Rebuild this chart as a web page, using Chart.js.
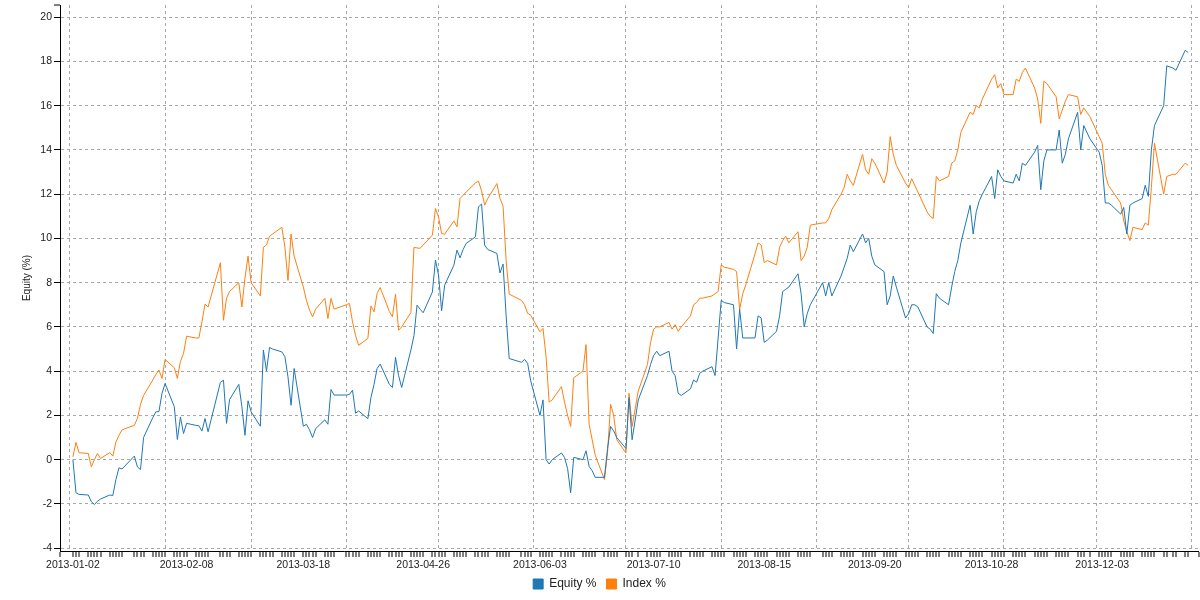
<!DOCTYPE html>
<html>
<head>
<meta charset="utf-8">
<script src="https://cdn.jsdelivr.net/npm/chart.js@4.4.0/dist/chart.umd.min.js"></script>
<style>
  html, body { margin: 0; padding: 0; background: #fff; }
</style>
</head>
<body>
<canvas id="equity-chart" width="1200" height="600"></canvas>
<script>
// trading days of 2013
const dates = [
  '2013-01-02','2013-01-03','2013-01-04','2013-01-07','2013-01-08','2013-01-09','2013-01-10','2013-01-11','2013-01-14','2013-01-15','2013-01-16','2013-01-17','2013-01-18','2013-01-22','2013-01-23','2013-01-24','2013-01-25','2013-01-28','2013-01-29','2013-01-30','2013-01-31',
  '2013-02-01','2013-02-04','2013-02-05','2013-02-06','2013-02-07','2013-02-08','2013-02-11','2013-02-12','2013-02-13','2013-02-14','2013-02-15','2013-02-19','2013-02-20','2013-02-21','2013-02-22','2013-02-25','2013-02-26','2013-02-27','2013-02-28',
  '2013-03-01','2013-03-04','2013-03-05','2013-03-06','2013-03-07','2013-03-08','2013-03-11','2013-03-12','2013-03-13','2013-03-14','2013-03-15','2013-03-18','2013-03-19','2013-03-20','2013-03-21','2013-03-22','2013-03-25','2013-03-26','2013-03-27','2013-03-28',
  '2013-04-01','2013-04-02','2013-04-03','2013-04-04','2013-04-05','2013-04-08','2013-04-09','2013-04-10','2013-04-11','2013-04-12','2013-04-15','2013-04-16','2013-04-17','2013-04-18','2013-04-19','2013-04-22','2013-04-23','2013-04-24','2013-04-25','2013-04-26','2013-04-29','2013-04-30',
  '2013-05-01','2013-05-02','2013-05-03','2013-05-06','2013-05-07','2013-05-08','2013-05-09','2013-05-10','2013-05-13','2013-05-14','2013-05-15','2013-05-16','2013-05-17','2013-05-20','2013-05-21','2013-05-22','2013-05-23','2013-05-24','2013-05-28','2013-05-29','2013-05-30','2013-05-31',
  '2013-06-03','2013-06-04','2013-06-05','2013-06-06','2013-06-07','2013-06-10','2013-06-11','2013-06-12','2013-06-13','2013-06-14','2013-06-17','2013-06-18','2013-06-19','2013-06-20','2013-06-21','2013-06-24','2013-06-25','2013-06-26','2013-06-27','2013-06-28',
  '2013-07-01','2013-07-02','2013-07-03','2013-07-05','2013-07-08','2013-07-09','2013-07-10','2013-07-11','2013-07-12','2013-07-15','2013-07-16','2013-07-17','2013-07-18','2013-07-19','2013-07-22','2013-07-23','2013-07-24','2013-07-25','2013-07-26','2013-07-29','2013-07-30','2013-07-31',
  '2013-08-01','2013-08-02','2013-08-05','2013-08-06','2013-08-07','2013-08-08','2013-08-09','2013-08-12','2013-08-13','2013-08-14','2013-08-15','2013-08-16','2013-08-19','2013-08-20','2013-08-21','2013-08-22','2013-08-23','2013-08-26','2013-08-27','2013-08-28','2013-08-29','2013-08-30',
  '2013-09-03','2013-09-04','2013-09-05','2013-09-06','2013-09-09','2013-09-10','2013-09-11','2013-09-12','2013-09-13','2013-09-16','2013-09-17','2013-09-18','2013-09-19','2013-09-20','2013-09-23','2013-09-24','2013-09-25','2013-09-26','2013-09-27','2013-09-30',
  '2013-10-01','2013-10-02','2013-10-03','2013-10-04','2013-10-07','2013-10-08','2013-10-09','2013-10-10','2013-10-11','2013-10-14','2013-10-15','2013-10-16','2013-10-17','2013-10-18','2013-10-21','2013-10-22','2013-10-23','2013-10-24','2013-10-25','2013-10-28','2013-10-29','2013-10-30','2013-10-31',
  '2013-11-01','2013-11-04','2013-11-05','2013-11-06','2013-11-07','2013-11-08','2013-11-11','2013-11-12','2013-11-13','2013-11-14','2013-11-15','2013-11-18','2013-11-19','2013-11-20','2013-11-21','2013-11-22','2013-11-25','2013-11-26','2013-11-27','2013-11-29',
  '2013-12-02','2013-12-03','2013-12-04','2013-12-05','2013-12-06','2013-12-09','2013-12-10','2013-12-11','2013-12-12','2013-12-13','2013-12-16','2013-12-17','2013-12-18','2013-12-19','2013-12-20','2013-12-23','2013-12-24','2013-12-26','2013-12-27','2013-12-30','2013-12-31'
];

const equity = [
  0.0,-1.5,-1.57,-1.6,-1.9,-2.03,-1.88,-1.78,-1.6,-1.62,-0.9,-0.37,-0.42,0.16,-0.33,-0.45,1.0,1.9,2.16,2.17,3.0,
  3.44,2.39,0.91,1.93,1.18,1.64,1.55,1.53,1.29,1.86,1.26,3.49,3.59,1.64,2.72,3.4,2.39,1.1,2.66,
  2.16,1.51,4.95,4.01,5.07,5.0,4.87,4.65,3.74,2.46,4.12,1.51,1.6,1.35,1.0,1.4,1.8,1.6,3.17,2.92,
  2.92,2.95,3.14,2.1,2.2,1.85,2.81,3.4,4.12,4.32,3.4,3.26,4.62,3.8,3.26,4.95,5.6,6.98,6.8,6.64,7.58,9.02,
  8.34,6.73,7.89,8.79,9.47,9.12,9.5,9.77,10.07,11.43,11.55,9.7,9.5,9.32,8.44,8.84,6.5,4.57,4.4,4.53,4.35,3.56,
  2.0,2.7,0.0,-0.2,0.0,0.3,0.1,-0.4,-1.5,0.1,0.0,0.4,-0.3,-0.5,-0.8,-0.8,0.5,1.5,1.3,1.0,
  0.5,2.8,0.9,2.7,3.8,4.3,4.7,4.9,4.7,4.9,4.0,3.8,3.0,2.9,3.2,3.6,3.5,3.9,4.0,4.2,3.8,5.5,
  7.2,7.1,7.0,5.0,6.8,5.5,5.5,5.5,6.5,6.4,5.3,5.4,5.8,6.5,7.6,7.7,7.8,8.4,7.5,6.0,6.6,7.0,
  8.0,7.4,8.0,7.4,8.3,8.7,9.1,9.7,9.4,10.2,9.8,10.0,9.2,8.8,8.5,7.0,7.4,8.3,7.8,6.4,
  6.6,7.0,7.0,6.9,6.0,5.9,5.7,7.5,7.3,7.0,7.8,8.5,9.0,9.8,11.5,10.2,11.2,11.7,12.0,12.8,11.8,13.1,12.8,
  12.6,12.5,12.9,12.6,13.4,13.3,13.9,14.2,12.2,13.5,14.0,14.0,14.9,13.4,13.8,14.5,15.7,14.0,15.1,14.5,
  13.9,13.3,11.6,11.6,11.5,11.1,11.4,10.2,11.5,11.6,11.8,12.4,11.9,14.0,15.1,16.0,17.8,17.7,17.6,18.5,18.4
];

const indexPct = [
  0.13,0.78,0.31,0.28,-0.33,0.0,0.28,0.05,0.32,0.16,0.8,1.1,1.35,1.55,1.86,2.5,2.9,3.6,3.85,4.05,3.67,
  4.53,4.15,3.67,4.44,4.8,5.58,5.5,5.5,6.23,7.03,6.9,8.9,6.3,7.3,7.6,8.0,6.9,8.2,9.2,
  8.0,7.4,9.6,9.7,10.1,10.2,10.5,9.6,8.1,10.2,9.2,7.8,7.2,6.76,6.45,6.8,7.29,6.38,7.29,6.8,
  7.0,7.06,6.23,5.6,5.17,5.48,6.95,6.68,7.51,7.78,6.7,6.45,7.48,5.85,6.0,6.65,9.59,9.57,9.55,9.7,10.15,11.35,
  10.97,10.22,10.19,10.79,10.52,11.8,11.95,12.1,12.5,12.59,12.15,11.5,11.8,12.48,11.8,11.46,9.0,7.48,7.2,7.0,6.61,6.53,
  5.78,5.93,4.65,2.6,2.7,3.3,2.6,2.0,1.5,3.7,4.0,5.2,1.6,0.9,0.2,-0.9,0.3,2.5,2.0,0.9,
  0.3,3.0,1.5,3.1,4.3,5.3,5.9,6.0,6.0,6.2,5.9,6.1,5.8,6.0,6.5,7.0,7.1,7.3,7.3,7.4,7.5,7.6,
  8.8,8.7,8.6,8.5,6.8,7.5,7.9,9.3,9.8,9.7,8.9,9.0,8.8,9.6,9.9,10.1,9.8,10.3,9.0,9.2,9.6,10.6,
  10.7,10.7,10.9,11.3,12.0,12.3,12.9,12.6,12.4,13.8,13.1,12.9,13.6,13.4,12.5,13.0,14.6,13.8,13.3,12.5,
  12.3,12.7,12.4,12.1,11.2,11.0,10.9,12.8,12.6,12.8,13.4,13.5,14.0,14.8,15.7,15.6,16.0,15.9,16.3,17.2,17.4,16.8,17.0,
  16.5,16.5,17.2,17.1,17.5,17.7,16.8,16.3,15.2,17.1,17.0,16.4,15.4,15.8,16.2,16.5,16.4,15.6,15.9,15.5,
  14.6,14.3,12.9,12.4,12.2,11.6,10.8,10.3,9.9,10.5,10.4,10.7,10.6,12.3,14.3,12.0,12.8,12.9,12.9,13.4,13.3
];

const tickLabels = ['2013-01-02','2013-02-08','2013-03-18','2013-04-26','2013-06-03','2013-07-10','2013-08-15','2013-09-20','2013-10-28','2013-12-03'];
const monthStarts = ['2013-01-01','2013-02-01','2013-03-01','2013-04-01','2013-05-01','2013-06-01','2013-07-01','2013-08-01','2013-09-01','2013-10-01','2013-11-01','2013-12-01','2014-01-01'];
const yTicks = [-4,-2,0,2,4,6,8,10,12,14,16,18,20];

const X_MIN = -3.2, X_MAX = 367.5;
const Y_MIN = -4.13, Y_MAX = 20.55;

// days since 2013-01-01
function toDay(s) {
  const p = s.split('-').map(Number);
  return (Date.UTC(p[0], p[1] - 1, p[2]) - Date.UTC(2013, 0, 1)) / 864e5;
}

const kindOf = c => (c.tick ? c.tick.kind : '');

Chart.defaults.font.family = "'Liberation Sans', Arial, sans-serif";
Chart.defaults.color = '#222';

const ctx = document.getElementById('equity-chart').getContext('2d');

const myChart = new Chart(ctx, {
  type: 'line',
  data: {
    datasets: [
      {
        label: 'Equity %',
        data: dates.map((d, i) => ({x: toDay(d), y: equity[i]})),
        borderColor: '#1f77b4',
        backgroundColor: '#1f77b4',
        borderWidth: 1,
        pointRadius: 0,
        tension: 0
      },
      {
        label: 'Index %',
        data: dates.map((d, i) => ({x: toDay(d), y: indexPct[i]})),
        borderColor: '#ff7f0e',
        backgroundColor: '#ff7f0e',
        borderWidth: 1,
        pointRadius: 0,
        tension: 0
      }
    ]
  },
  options: {
    responsive: false,
    animation: false,
    layout: {padding: {top: 5, right: 1, left: 0, bottom: 0}},
    plugins: {
      tooltip: {enabled: false},
      legend: {
        position: 'bottom',
        labels: {boxWidth: 10, boxHeight: 10, padding: 10, font: {size: 12}, color: '#222'}
      }
    },
    scales: {
      x: {
        type: 'linear',
        min: X_MIN,
        max: X_MAX,
        afterBuildTicks: s => {
          const t = [{value: X_MIN, kind: 'end'}, {value: X_MAX, kind: 'end'}];
          monthStarts.forEach(m => t.push({value: toDay(m), kind: 'month'}));
          dates.forEach(d => t.push({value: toDay(d), kind: 'day', date: d}));
          s.ticks = t.sort((a, b) => a.value - b.value);
        },
        afterFit: s => {
          s.height = 17;
          s.paddingLeft = 0;
          s.paddingRight = 0;
        },
        ticks: {
          autoSkip: false,
          maxRotation: 0,
          padding: 2,
          font: {size: 10.5},
          color: '#222',
          callback: (v, i, ticks) => (tickLabels.includes(ticks[i].date) ? ticks[i].date : '')
        },
        grid: {
          color: c => (kindOf(c) === 'month' ? '#a8a8a8' : 'rgba(0,0,0,0)'),
          lineWidth: c => (kindOf(c) === 'month' ? 1 : 0),
          tickColor: '#000',
          tickWidth: c => (kindOf(c) === 'month' ? 0 : 1),
          tickLength: 6
        },
        border: {display: true, color: '#000', width: 1, dash: [3, 3]}
      },
      y: {
        type: 'linear',
        min: Y_MIN,
        max: Y_MAX,
        afterBuildTicks: s => {
          s.ticks = yTicks.map(v => ({value: v, kind: 'major'}));
          s.ticks.push({value: Y_MAX, kind: 'end'});
        },
        afterFit: s => {
          s.width = 60;
          s.paddingTop = 0;
          s.paddingBottom = 0;
        },
        title: {display: true, text: 'Equity (%)', font: {size: 10}, color: '#222', padding: {top: 21, bottom: 0}},
        ticks: {
          padding: 2,
          font: {size: 10.5},
          color: '#222',
          callback: (v, i, ticks) => (ticks[i].kind === 'end' ? '' : String(v))
        },
        grid: {
          color: c => (kindOf(c) === 'major' ? '#a8a8a8' : 'rgba(0,0,0,0)'),
          lineWidth: c => (kindOf(c) === 'major' ? 1 : 0),
          tickColor: '#000',
          tickWidth: 1,
          tickLength: 6
        },
        border: {display: true, color: '#000', width: 1, dash: [3, 3]}
      }
    }
  }
});
</script>
</body>
</html>
